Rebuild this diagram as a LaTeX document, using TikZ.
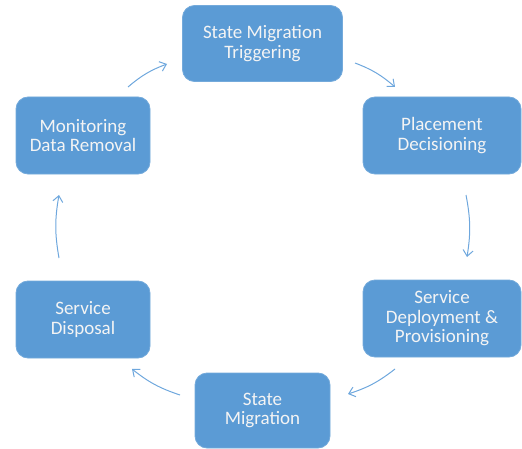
\documentclass[tikz,border=0pt]{standalone}
\usepackage{fontspec}
\setmainfont{Carlito}
\usetikzlibrary{arrows.meta}
\definecolor{boxblue}{HTML}{5B9BD5}
\definecolor{arrblue}{HTML}{6EA7DD}
\definecolor{txt}{HTML}{F4F4F4}
\begin{document}
\begin{tikzpicture}[x=1pt,y=1pt,
  stepbox/.style={draw=boxblue!85!white, line width=0.8pt, fill=boxblue, rounded corners=12pt,
    text=txt, align=center, inner sep=0pt, font=\fontsize{19}{19.5}\selectfont},
  flow/.style={draw=arrblue, line width=1pt, -{Straight Barb[length=6pt,width=10pt]}, bend left=10}]
\useasboundingbox (0,0) rectangle (522,448);
\node[stepbox, minimum width=160pt, minimum height=76pt] (trig) at (262.5,404.5) {State Migration\\Triggering};
\node[stepbox, minimum width=158pt, minimum height=77pt] (place) at (442,312.5) {Placement\\Decisioning};
\node[stepbox, minimum width=158pt, minimum height=77pt] (deploy) at (442,129.5) {Service\\Deployment \&\\Provisioning};
\node[stepbox, minimum width=135pt, minimum height=75pt] (migr) at (262.5,37.5) {State\\Migration};
\node[stepbox, minimum width=134pt, minimum height=77pt] (disp) at (83,128.5) {Service\\Disposal};
\node[stepbox, minimum width=134pt, minimum height=77pt] (mon) at (83,312.5) {Monitoring\\Data Removal};
\coordinate (a1s) at (128,361); \coordinate (a1e) at (167,384);
\coordinate (a2s) at (355,385); \coordinate (a2e) at (395,361);
\coordinate (a3s) at (466,253); \coordinate (a3e) at (467,191);
\coordinate (a4s) at (395,79);  \coordinate (a4e) at (348,54);
\coordinate (a5s) at (180,53);  \coordinate (a5e) at (132,79);
\coordinate (a6s) at (59,190);  \coordinate (a6e) at (59,253);
\draw[flow] (a1s) to (a1e);
\draw[flow] (a2s) to (a2e);
\draw[flow] (a3s) to (a3e);
\draw[flow] (a4s) to (a4e);
\draw[flow] (a5s) to (a5e);
\draw[flow] (a6s) to (a6e);
\end{tikzpicture}
\end{document}
